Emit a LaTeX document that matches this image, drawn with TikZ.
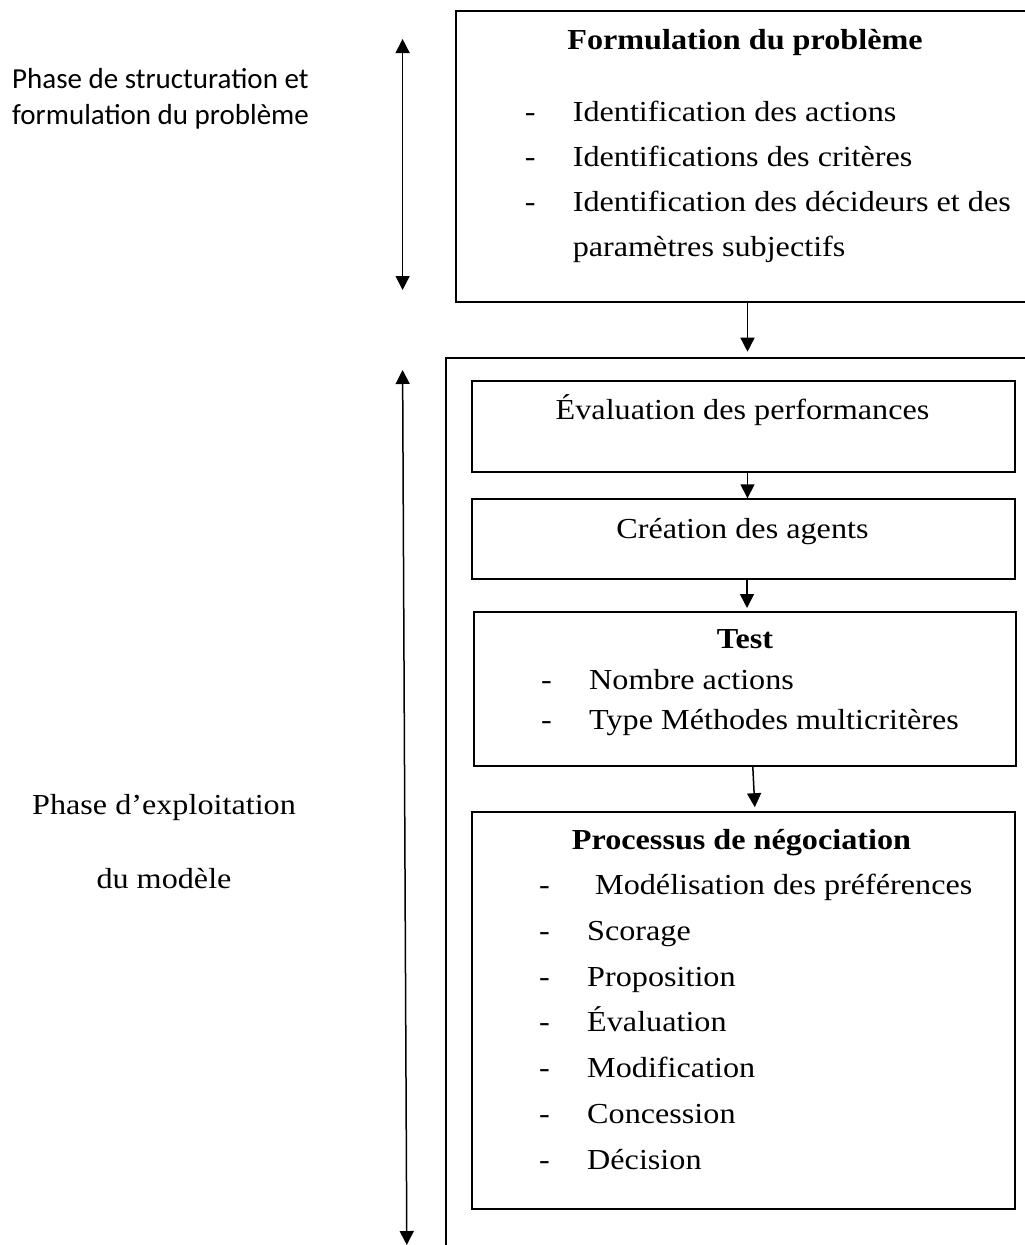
\documentclass[tikz,border=0pt]{standalone}
\usepackage{fontspec}
\setmainfont[FakeStretch=1.11]{Liberation Serif}
\newfontfamily\calib{Carlito}
\usetikzlibrary{arrows.meta,calc}

% hyphen hanging to the left of an item
\newcommand\dashitem[1]{\llap{\makebox[48pt][l]{-}}#1}

\begin{document}
\begin{tikzpicture}[x=1pt,y=-1pt,
  box/.style={draw, line width=2pt, rectangle, anchor=north west, inner sep=0pt},
  flow/.style={line width=1.5pt, -{Triangle[width=14pt,length=14pt]}},
  span/.style={line width=1.5pt, {Triangle[width=14pt,length=14pt]}-{Triangle[width=14pt,length=14pt]}},
  txt/.style={font=\fontsize{29}{34}\selectfont, inner sep=0pt, text height=20pt, text depth=7pt},
  item/.style={txt, anchor=west},
  title/.style={txt, anchor=center, font=\fontsize{29}{34}\selectfont\bfseries},
  side/.style={inner sep=0pt, anchor=west, font=\calib\fontsize{29}{34}\selectfont, text height=19pt, text depth=6pt}]
\useasboundingbox (0,0) rectangle (1025,1245);
\clip (0,0) rectangle (1025,1245);

% phase labels on the left
\node[side] (ph1a) at (12,81.7) {Phase de structuration et};
\node[side] (ph1b) at (12,118) {formulation du problème};
\node[txt] (ph2a) at (164,808) {Phase d’exploitation};
\node[txt] (ph2b) at (164,882) {du modèle};

% extent arrows
\coordinate (s1a) at (402.6,39);
\coordinate (s1b) at (402.6,290);
\coordinate (s2a) at (402.6,370);
\coordinate (s2b) at (406.8,1245);
\draw[span] (s1a) -- (s1b);
\draw[span] (s2a) -- (s2b);

% problem formulation block
\node[box, minimum width=620pt, minimum height=291pt] (form) at (454.5,10) {};
\node[title] (formT) at (745,43) {Formulation du problème};
\node[item] (f1) at (572.6,115) {\dashitem{Identification des actions}};
\node[item] (f2) at (572.6,160) {\dashitem{Identifications des critères}};
\node[item] (f3) at (572.6,205) {\dashitem{Identification des décideurs et des}};
\node[item] (f4) at (572.6,250) {paramètres subjectifs};

% model exploitation block
\node[box, minimum width=640pt, minimum height=950pt] (expl) at (445,356.7) {};

\node[box, minimum width=543pt, minimum height=90.7pt] (eval) at (471,380) {};
\node[txt] (evalT) at (742.5,413) {Évaluation des performances};

\node[box, minimum width=543pt, minimum height=80pt] (crea) at (471,498.3) {};
\node[txt] (creaT) at (742.5,531.7) {Création des agents};

\node[box, minimum width=542pt, minimum height=154.3pt] (test) at (472.8,610.7) {};
\node[title] (testT) at (745,641.7) {Test};
\node[item] (t1) at (589,682.7) {\dashitem{Nombre actions}};
\node[item] (t2) at (589,723) {\dashitem{Type Méthodes multicritères}};

\node[box, minimum width=543pt, minimum height=397pt] (proc) at (471,810.7) {};
\node[title] (procT) at (741.5,843) {Processus de négociation};
\node[item] (p1) at (587,888) {\dashitem{\hspace{8pt}Modélisation des préférences}};
\node[item] (p2) at (587,934) {\dashitem{Scorage}};
\node[item] (p3) at (587,980) {\dashitem{Proposition}};
\node[item] (p4) at (587,1025) {\dashitem{Évaluation}};
\node[item] (p5) at (587,1071) {\dashitem{Modification}};
\node[item] (p6) at (587,1117) {\dashitem{Concession}};
\node[item] (p7) at (587,1163) {\dashitem{Décision}};

% flow between blocks
\draw[flow, shorten >=5pt] ($(form.south west)+(293,0)$) -- ($(expl.north west)+(302.5,0)$);
\draw[flow] ($(eval.south west)+(276.5,0)$) -- ($(crea.north west)+(276.5,0)$);
\draw[flow, shorten >=2.7pt] ($(crea.south west)+(276,0)$) -- ($(test.north west)+(274.2,0)$);
\draw[flow, shorten >=3.5pt] ($(test.south west)+(280,0)$) -- ($(proc.north west)+(284,0)$);
\end{tikzpicture}
\end{document}
